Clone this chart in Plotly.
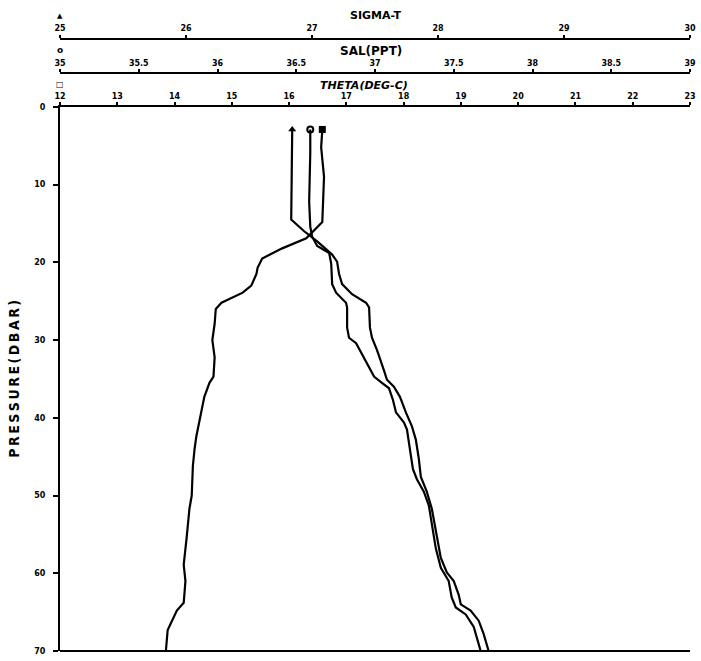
import plotly.graph_objects as go

# ---- data ----
theta_pres = [2.9, 5.2, 9.0, 14.1, 14.8, 16.9, 18.2, 19.5, 20.7, 21.5, 23.0, 23.9, 24.6, 25.2, 26.0,
              27.9, 30.0, 32.2, 34.7, 35.5, 37.3, 40.2, 42.4, 44.0, 46.2, 50.0, 51.7, 55.5, 58.9,
              61.0, 63.8, 64.8, 66.1, 67.3, 69.9]
theta_vals = [16.58, 16.56, 16.61, 16.58, 16.58, 16.30, 15.88, 15.53, 15.45, 15.43, 15.34, 15.19, 14.99,
              14.82, 14.72, 14.70, 14.66, 14.70, 14.68, 14.61, 14.52, 14.44, 14.38, 14.35, 14.32, 14.30,
              14.26, 14.21, 14.16, 14.19, 14.16, 14.04, 13.95, 13.88, 13.85]

sigma_pres = [2.9, 5.9, 9.7, 14.5, 16.0, 17.3, 19.0, 19.9, 21.5, 22.8, 24.1, 25.2, 25.8, 28.4, 29.7,
              31.3, 33.9, 35.1, 36.0, 37.3, 39.3, 41.1, 42.8, 45.3, 47.6, 49.5, 51.7, 54.6, 58.0,
              59.9, 61.0, 62.8, 64.0, 64.8, 66.1, 67.8, 70.0]
sigma_vals = [26.843, 26.84, 26.835, 26.835, 26.938, 27.041, 27.16, 27.199, 27.215, 27.239, 27.318,
              27.429, 27.453, 27.46, 27.476, 27.516, 27.571, 27.595, 27.65, 27.698, 27.745, 27.793,
              27.824, 27.848, 27.864, 27.911, 27.951, 27.983, 28.022, 28.07, 28.125, 28.165, 28.181,
              28.259, 28.323, 28.362, 28.402]

sal_pres = [2.9, 5.9, 12.2, 15.4, 16.7, 17.9, 18.8, 20.2, 22.8, 23.9, 25.2, 25.8, 28.4, 29.7, 30.4,
            32.8, 34.7, 35.5, 36.2, 37.7, 39.3, 40.6, 41.5, 44.9, 46.6, 47.9, 49.5, 51.3, 53.8, 56.8,
            59.3, 61.0, 63.1, 64.4, 65.3, 66.9, 70.0]
sal_vals = [36.589, 36.589, 36.582, 36.589, 36.601, 36.633, 36.709, 36.722, 36.728, 36.753, 36.816,
            36.823, 36.823, 36.835, 36.880, 36.943, 36.994, 37.044, 37.089, 37.114, 37.133, 37.184,
            37.203, 37.228, 37.241, 37.266, 37.310, 37.342, 37.361, 37.386, 37.418, 37.468, 37.487,
            37.513, 37.576, 37.627, 37.671]

sigma_ticks = [25, 26, 27, 28, 29, 30]
sal_ticks = [35, 35.5, 36, 36.5, 37, 37.5, 38, 38.5, 39]
sal_ticktext = ["35", "35.5", "36", "36.5", "37", "37.5", "38", "38.5", "39"]
theta_ticks = [12, 13, 14, 15, 16, 17, 18, 19, 20, 21, 22, 23]
pres_ticks = [0, 10, 20, 30, 40, 50, 60, 70]

LW = 2.2
BLK = "black"
tickfont = dict(family="DejaVu Sans", size=8, color=BLK, weight="bold")

fig = go.Figure()
fig.add_trace(go.Scatter(x=theta_vals, y=theta_pres, mode="lines", line=dict(color=BLK, width=LW),
                         xaxis="x", yaxis="y", showlegend=False, hoverinfo="skip"))
fig.add_trace(go.Scatter(x=sigma_vals, y=sigma_pres, mode="lines", line=dict(color=BLK, width=LW),
                         xaxis="x2", yaxis="y", showlegend=False, hoverinfo="skip"))
fig.add_trace(go.Scatter(x=sal_vals, y=sal_pres, mode="lines", line=dict(color=BLK, width=LW),
                         xaxis="x3", yaxis="y", showlegend=False, hoverinfo="skip"))
# start markers
fig.add_trace(go.Scatter(x=[theta_vals[0]], y=[theta_pres[0]], mode="markers",
                         marker=dict(symbol="square", size=7, color=BLK),
                         xaxis="x", yaxis="y", showlegend=False, hoverinfo="skip"))
fig.add_trace(go.Scatter(x=[sigma_vals[0]], y=[sigma_pres[0]], mode="markers",
                         marker=dict(symbol="triangle-up", size=7, color=BLK),
                         xaxis="x2", yaxis="y", showlegend=False, hoverinfo="skip"))
fig.add_trace(go.Scatter(x=[sal_vals[0]], y=[sal_pres[0]], mode="markers",
                         marker=dict(symbol="circle-open", size=6, color=BLK, line=dict(width=2, color=BLK)),
                         xaxis="x3", yaxis="y", showlegend=False, hoverinfo="skip"))

axis_common = dict(showline=True, linecolor=BLK, linewidth=2, ticks="outside", ticklen=3,
                   tickwidth=1.5, tickcolor=BLK, showgrid=False, zeroline=False,
                   tickfont=tickfont, side="top", fixedrange=True)

fig.update_layout(
    width=701, height=661,
    margin=dict(l=60, r=9, t=5, b=7),
    paper_bgcolor="white", plot_bgcolor="white",
    xaxis=dict(range=[12, 23], tickvals=theta_ticks, anchor="y", domain=[0, 1], **axis_common),
    xaxis2=dict(range=[25, 30], tickvals=sigma_ticks, overlaying="x", anchor="free",
                position=0.9538, **axis_common),
    xaxis3=dict(range=[35, 39], tickvals=sal_ticks, ticktext=sal_ticktext, overlaying="x",
                anchor="free", position=0.8998, **axis_common),
    yaxis=dict(range=[70, 0], tickvals=pres_ticks, domain=[0, 0.8475], showline=True,
               linecolor=BLK, linewidth=2, ticks="outside", ticklen=5, tickwidth=1.5,
               tickcolor=BLK, showgrid=False, zeroline=False, tickfont=tickfont, fixedrange=True,
               ticklabelstandoff=6),
)

# bottom frame line
fig.add_shape(type="line", xref="x domain", yref="y domain", x0=0, x1=1, y0=0, y1=0,
              line=dict(color=BLK, width=2))

def ann(text, x, y, size, family="DejaVu Sans", angle=0):
    fig.add_annotation(text=text, xref="paper", yref="paper", x=x, y=y, xanchor="center",
                       yanchor="middle", showarrow=False, textangle=angle,
                       font=dict(family=family, size=size, color=BLK, weight="bold"))

ann("SIGMA-T", 0.5, 0.9892, 11)
ann("SAL(PPT)", 0.494, 0.9353, 12)
ann("<i>THETA(DEG-C)</i>", 0.483, 0.8814, 11)
ann("\u2009".join("PRESSURE(DBAR)"), -0.073, 0.424, 14, family="DejaVu Sans Condensed", angle=-90)
# symbol keys
ann("▲", 0.0, 0.9892, 7)
ann("o", 0.0, 0.9368, 9)
ann("□", 0.0, 0.8829, 8)

fig.write_html("out.html", post_script="document.body.style.margin='0px';",
               config={"displayModeBar": False})
